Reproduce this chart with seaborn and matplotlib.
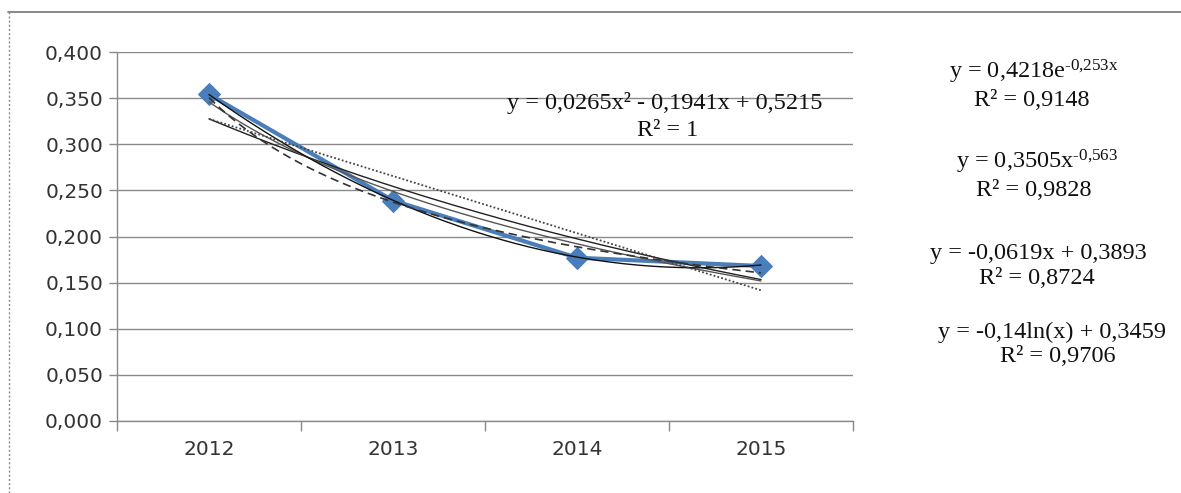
import numpy as np
import pandas as pd
import matplotlib
matplotlib.use("Agg")
import matplotlib.pyplot as plt
from matplotlib.lines import Line2D
import seaborn as sns

# Observed series
years = ["2012", "2013", "2014", "2015"]
values = [0.354, 0.239, 0.177, 0.168]

# Trendline coefficients, as printed in the equation labels
poly_coef = [0.0265, -0.1941, 0.5215]   # a*x^2 + b*x + c
exp_coef = [0.4218, -0.253]             # a*e^(b*x)
pow_coef = [0.3505, -0.563]             # a*x^b
lin_coef = [-0.0619, 0.3893]            # a*x + b
log_coef = [-0.14, 0.3459]              # a*ln(x) + b

y_ticks = [0.0, 0.05, 0.10, 0.15, 0.20, 0.25, 0.30, 0.35, 0.40]

sns.set_style("white")
plt.rcParams["font.family"] = ["DejaVu Sans"]
plt.rcParams["mathtext.fontset"] = "custom"
plt.rcParams["mathtext.rm"] = "Liberation Serif"
plt.rcParams["mathtext.it"] = "Liberation Serif:italic"

W, H = 1181, 493
fig = plt.figure(figsize=(W / 100, H / 100), dpi=100)
fig.patch.set_facecolor("white")

# outer chart frame: solid top edge, dotted left edge
fig.lines.append(Line2D([8 / W, 1.0], [1 - 12 / H, 1 - 12 / H], transform=fig.transFigure,
                        color="#7f7f7f", linewidth=1.3))
fig.lines.append(Line2D([8.5 / W, 8.5 / W], [0.0, 1 - 12 / H], transform=fig.transFigure,
                        color="#8c8c8c", linewidth=1.0, linestyle=(0, (1.5, 1.5))))

ax = fig.add_axes([117 / W, 1 - 421 / H, (853 - 117) / W, (421 - 52) / H])

df = pd.DataFrame({"year": years, "value": values, "pos": np.arange(len(years))})

# fitted curves evaluated at category index x = 1..4
xs = np.linspace(1, 4, 200)
trend = pd.DataFrame({
    "pos": xs - 1,
    "poly": poly_coef[0] * xs**2 + poly_coef[1] * xs + poly_coef[2],
    "exp": exp_coef[0] * np.exp(exp_coef[1] * xs),
    "pow": pow_coef[0] * xs**pow_coef[1],
    "lin": lin_coef[0] * xs + lin_coef[1],
    "log": log_coef[0] * np.log(xs) + log_coef[1],
})

sns.lineplot(data=df, x="pos", y="value", ax=ax, color="#4a7ebb",
             linewidth=3.0, marker="D", markersize=11.5, markeredgecolor="#4a7ebb",
             zorder=3)

sns.lineplot(data=trend, x="pos", y="exp", ax=ax, color="#222222", linewidth=1.0, zorder=4)
sns.lineplot(data=trend, x="pos", y="log", ax=ax, color="#555555", linewidth=1.0, zorder=4)
sns.lineplot(data=trend, x="pos", y="poly", ax=ax, color="#111111", linewidth=1.0, zorder=4)
sns.lineplot(data=trend, x="pos", y="pow", ax=ax, color="#333333", linewidth=1.2,
             linestyle=(0, (5, 3)), zorder=4)
sns.lineplot(data=trend, x="pos", y="lin", ax=ax, color="#444444", linewidth=1.3,
             linestyle=(0, (1, 1.2)), zorder=4)

ax.set_xlim(-0.5, len(years) - 0.5)
ax.set_ylim(0, 0.4)
ax.set_yticks(y_ticks)
ax.set_yticklabels([f"{v:.3f}".replace(".", ",") for v in y_ticks])
ax.set_xticks(np.arange(-0.5, len(years), 1.0))
ax.set_xticklabels([])
ax.set_xticks(np.arange(len(years)), minor=True)
ax.set_xticklabels(years, minor=True)
ax.set_xlabel("")
ax.set_ylabel("")

ax.grid(axis="y", color="#8a8a8a", linewidth=1.0)
ax.set_axisbelow(True)
for s in ["top", "right"]:
    ax.spines[s].set_visible(False)
for s in ["left", "bottom"]:
    ax.spines[s].set_color("#8a8a8a")
    ax.spines[s].set_linewidth(1.0)

ax.tick_params(axis="y", which="major", direction="out", length=6, width=1,
               color="#8a8a8a", labelsize=14.5, labelcolor="#333333", pad=4, left=True)
ax.tick_params(axis="x", which="major", direction="out", length=7, width=1,
               color="#8a8a8a", bottom=True)
ax.tick_params(axis="x", which="minor", length=0, labelsize=14.5,
               labelcolor="#333333", pad=14)

serif = ["Liberation Serif", "DejaVu Serif"]
fs = 17.5

def eq(x, y, s):
    fig.text(x / W, 1 - y / H, s, ha="center", va="center",
             fontsize=fs, family=serif, color="#111111")

eq(665, 103, "y = 0,0265x² - 0,1941x + 0,5215")
eq(668, 130, "R² = 1")
eq(1034, 72, r"y = 0,4218e$^{\text{-0,253x}}$")
eq(1032, 100, "R² = 0,9148")
eq(1037, 162, r"y = 0,3505x$^{\text{-0,563}}$")
eq(1034, 190, "R² = 0,9828")
eq(1038, 254, "y = -0,0619x + 0,3893")
eq(1037, 279, "R² = 0,8724")
eq(1052, 332, "y = -0,14ln(x) + 0,3459")
eq(1058, 356, "R² = 0,9706")

fig.savefig("out.png", dpi=100)
